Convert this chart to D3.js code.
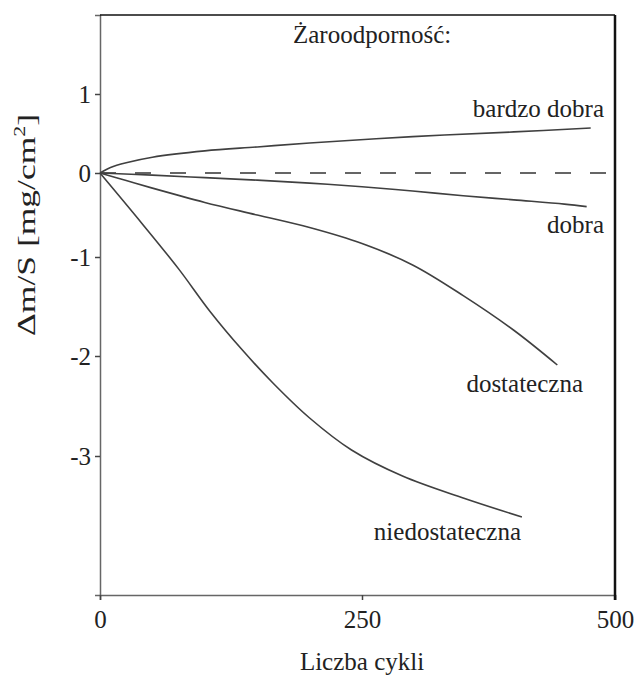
<!DOCTYPE html>
<html><head><meta charset="utf-8">
<script src="https://cdn.jsdelivr.net/npm/d3@7"></script>
<style>
body{margin:0;background:#fff;}
text{font-family:"Liberation Serif","Times New Roman",serif;fill:#222;}
</style></head>
<body>
<svg id="chart" width="636" height="678"></svg>
<script>
// ---- data ----
const xTicks = [0, 250, 500];
const yTicks = [1, 0, -1, -2, -3];
const seriesNames = ["bardzo dobra", "dobra", "dostateczna", "niedostateczna"];
const bardzoDobraCycles = [0, 10, 25, 50, 100, 150, 200, 300, 400, 476];
const bardzoDobraValues = [0, 0.07, 0.13, 0.20, 0.28, 0.33, 0.38, 0.46, 0.52, 0.57];
const dobraCycles = [0, 50, 100, 150, 200, 250, 300, 350, 400, 450, 472];
const dobraValues = [0, -0.025, -0.055, -0.085, -0.12, -0.163, -0.215, -0.27, -0.32, -0.37, -0.40];
const dostatecznaCycles = [0, 25, 50, 100, 150, 200, 250, 300, 350, 400, 443];
const dostatecznaValues = [0, -0.09, -0.18, -0.35, -0.50, -0.65, -0.84, -1.08, -1.39, -1.74, -2.09];
const niedostatecznaCycles = [0, 40, 75, 105, 135, 165, 200, 240, 290, 350, 408];
const niedostatecznaValues = [0, -0.60, -1.12, -1.55, -1.93, -2.27, -2.62, -2.94, -3.20, -3.42, -3.61];
const baselineValue = 0;
const title = "Żaroodporność:";
const xTitle = "Liczba cykli";

const svg = d3.select("#chart");
const x = d3.scaleLinear().domain([0, 250, 500]).range([100, 362, 615]);
const y = d3.scaleLinear().domain([2, 1, 0, -1, -2, -3, -4.39]).range([15, 94, 173, 257, 356, 456, 595]);

const series = [
  {name: seriesNames[0], c: bardzoDobraCycles, v: bardzoDobraValues, lx: 604, ly: 117},
  {name: seriesNames[1], c: dobraCycles, v: dobraValues, lx: 604, ly: 233},
  {name: seriesNames[2], c: dostatecznaCycles, v: dostatecznaValues, lx: 583, ly: 392},
  {name: seriesNames[3], c: niedostatecznaCycles, v: niedostatecznaValues, lx: 521, ly: 540}
];

// axes
const yAxis = svg.append("g").attr("transform", `translate(${x(0)},0)`)
  .call(d3.axisLeft(y).tickValues(yTicks).tickSize(5).tickPadding(4).tickFormat(d3.format("d")));
const xAxis = svg.append("g").attr("transform", `translate(0,${y(-4.39)})`)
  .call(d3.axisBottom(x).tickValues(xTicks).tickSize(5).tickPadding(10));
[yAxis, xAxis].forEach(g => {
  g.attr("font-family", null);
  g.select(".domain").attr("stroke", "#666").attr("stroke-width", 1.5);
  g.selectAll(".tick line").attr("stroke", "#444").attr("stroke-width", 1.5);
  g.selectAll(".tick text").style("font-family", "Liberation Serif").style("font-size", "25px").attr("fill", "#222");
});
yAxis.selectAll(".tick text").text(d => d < 0 ? "-" + Math.abs(d) : d);

// frame top and right
svg.append("line").attr("x1", x(0)).attr("x2", x(500)).attr("y1", y(2)).attr("y2", y(2))
  .attr("stroke", "#111").attr("stroke-width", 1.6);
svg.append("line").attr("x1", x(500)).attr("x2", x(500)).attr("y1", y(2)).attr("y2", y(-4.39) + 5)
  .attr("stroke", "#111").attr("stroke-width", 2.5);

// dashed zero line
svg.append("line").attr("x1", x(0)).attr("x2", x(500)).attr("y1", y(baselineValue)).attr("y2", y(baselineValue))
  .attr("stroke", "#333").attr("stroke-width", 1.6).attr("stroke-dasharray", "16,19");

// curves
const line = d3.line().x(d => x(d[0])).y(d => y(d[1])).curve(d3.curveCatmullRom.alpha(0.5));
series.forEach(s => {
  svg.append("path").datum(s.c.map((c, i) => [c, s.v[i]]))
    .attr("d", line).attr("fill", "none").attr("stroke", "#404040").attr("stroke-width", 1.6);
  svg.append("text").attr("x", s.lx).attr("y", s.ly).attr("text-anchor", "end")
    .style("font-size", "25px").text(s.name);
});

// titles
svg.append("text").attr("x", 293).attr("y", 43).style("font-size", "25px").text(title);
svg.append("text").attr("x", 362).attr("y", 670).attr("text-anchor", "middle").style("font-size", "25px").text(xTitle);
const yl = svg.append("text").attr("transform", "translate(35,225) rotate(-90)")
  .attr("text-anchor", "middle").style("font-size", "26px")
  .attr("textLength", 222).attr("lengthAdjust", "spacingAndGlyphs");
yl.append("tspan").text("Δm/S [mg/cm");
yl.append("tspan").attr("dy", -10).style("font-size", "16px").text("2");
yl.append("tspan").attr("dy", 10).text("]");
</script>
</body></html>
